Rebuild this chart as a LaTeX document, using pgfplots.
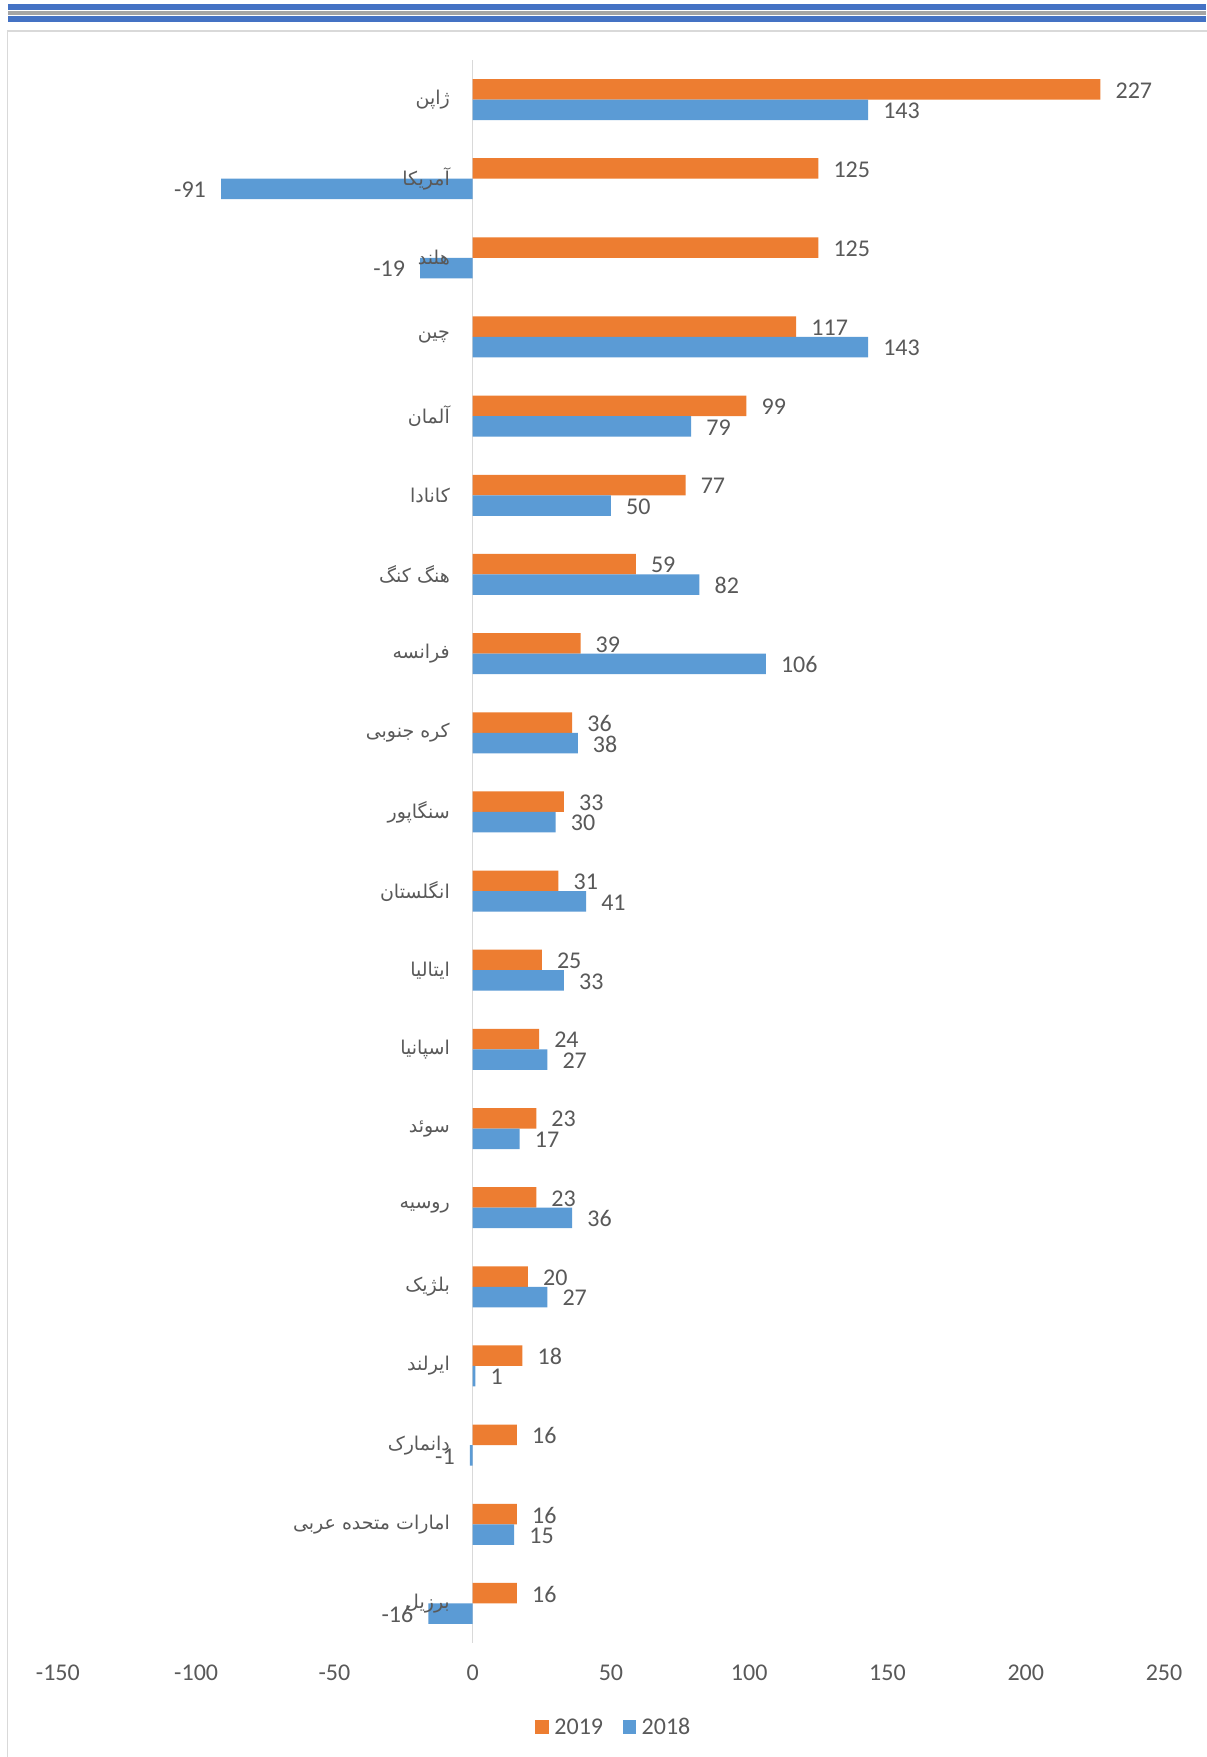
\documentclass[border=0pt]{standalone}
\usepackage{pgfplots}
\pgfplotsset{compat=1.18}
\usepackage{fontspec}
\setmainfont{Carlito}
\newfontfamily\farsifont[Script=Arabic]{DejaVu Sans}
\TeXXeTstate=1
\definecolor{orng}{HTML}{ED7D31}
\definecolor{blu}{HTML}{5B9BD5}
\definecolor{txt}{HTML}{595959}
\definecolor{zl}{HTML}{D9D9D9}
\definecolor{hdrblue}{HTML}{4472C4}
\definecolor{hdrgray}{HTML}{A5A5A5}
\newcommand\numfont{\fontsize{24bp}{28bp}\selectfont}
\newcommand\fa[1]{{\farsifont\fontsize{19bp}{23bp}\selectfont\beginR #1\endR}}
\begin{document}
\begin{tikzpicture}[x=1bp,y=1bp]
\useasboundingbox (0,0) rectangle (1206,1757);
\fill[white] (0,0) rectangle (1206,1757);
\fill[hdrblue] (8,1747) rectangle (1206,1753);
\fill[hdrgray] (8,1742) rectangle (1206,1746);
\fill[hdrblue] (8,1735) rectangle (1206,1741);
\draw[zl, line width=1.5bp] (7.5,-20) -- (7.5,1726) -- (1230,1726);
\begin{axis}[
  at={(57.9bp,114bp)}, anchor=south west,
  scale only axis, width=1106.1bp, height=1583bp,
  xmin=-150, xmax=250, ymin=-0.5, ymax=19.5,
  xtick={-150,-100,...,250}, ytick=\empty,
  axis line style={draw=none}, tick style={draw=none},
  xticklabel style={anchor=center, inner sep=0pt, yshift=-30bp, font=\numfont, text=txt},
  /pgf/number format/assume math mode=true,
  xbar, bar width=20.5bp,
  clip=false,
  point meta=x,
  nodes near coords,
  nodes near coords align={horizontal},
  nodes near coords style={font=\numfont, text=txt, inner xsep=15bp, inner ysep=0pt, yshift=-1bp},
  legend columns=2,
  legend style={at={(0.5017,-0.0531)}, anchor=center, draw=none, fill=none, inner sep=0pt,
     nodes={inner sep=0pt, font=\numfont, text=txt},
     /tikz/every odd column/.append style={column sep=5.8bp},
     /tikz/every even column/.append style={column sep=19.5bp}},
  legend image code/.code={\fill[#1] (0bp,-6.65bp) rectangle (13.3bp,6.65bp);},
]
\draw[zl, line width=1.3bp] (axis cs:0,-0.5) -- (axis cs:0,19.5);
\addplot[fill=orng, draw=none, bar shift=10.25bp] coordinates {
(227,19) (125,18) (125,17) (117,16) (99,15) (77,14) (59,13) (39,12) (36,11) (33,10)
(31,9) (25,8) (24,7) (23,6) (23,5) (20,4) (18,3) (16,2) (16,1) (16,0)};
\addplot[fill=blu, draw=none, bar shift=-10.25bp] coordinates {
(143,19) (-91,18) (-19,17) (143,16) (79,15) (50,14) (82,13) (106,12) (38,11) (30,10)
(41,9) (33,8) (27,7) (17,6) (36,5) (27,4) (1,3) (-1,2) (15,1) (-16,0)};
\legend{2019,2018}
\begin{scope}[every node/.style={anchor=east, inner sep=0pt, text=txt, xshift=-22.7bp}]
\node at (axis cs:0,19) {\fa{ژاپن}};
\node at (axis cs:0,18) {\fa{آمریکا}};
\node at (axis cs:0,17) {\fa{هلند}};
\node at (axis cs:0,16) {\fa{چین}};
\node at (axis cs:0,15) {\fa{آلمان}};
\node at (axis cs:0,14) {\fa{کانادا}};
\node at (axis cs:0,13) {\fa{هنگ کنگ}};
\node at (axis cs:0,12) {\fa{فرانسه}};
\node at (axis cs:0,11) {\fa{کره جنوبی}};
\node at (axis cs:0,10) {\fa{سنگاپور}};
\node at (axis cs:0,9) {\fa{انگلستان}};
\node at (axis cs:0,8) {\fa{ایتالیا}};
\node at (axis cs:0,7) {\fa{اسپانیا}};
\node at (axis cs:0,6) {\fa{سوئد}};
\node at (axis cs:0,5) {\fa{روسیه}};
\node at (axis cs:0,4) {\fa{بلژیک}};
\node at (axis cs:0,3) {\fa{ایرلند}};
\node at (axis cs:0,2) {\fa{دانمارک}};
\node at (axis cs:0,1) {\fa{امارات متحده عربی}};
\node at (axis cs:0,0) {\fa{برزیل}};
\end{scope}
\end{axis}
\end{tikzpicture}
\end{document}
